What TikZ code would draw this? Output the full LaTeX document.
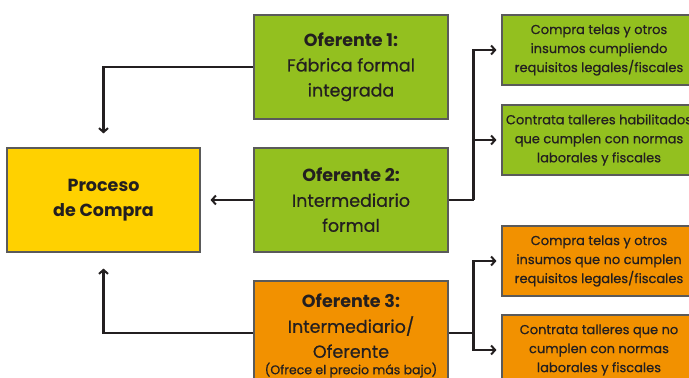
\documentclass[tikz,border=0pt]{standalone}
\usepackage{fontspec}
\setmainfont{Poppins}
\newfontfamily\med{Poppins}[FakeBold=0.6]
\newcommand\hb[1]{{\rmfamily\bfseries #1}}
\usetikzlibrary{arrows.meta}
\definecolor{grn}{HTML}{93C01F}
\definecolor{ylw}{HTML}{FFD100}
\definecolor{org}{HTML}{F29100}
\definecolor{ink}{HTML}{231F20}
\definecolor{edge}{HTML}{5A5A5A}
\tikzset{
  box/.style={draw=edge, line width=1.1pt, minimum width=194pt, inner sep=0pt, align=center, text=ink},
  bigfont/.style={font=\med\fontsize{17.5}{25}\selectfont},
  bigbox/.style={box, minimum height=104pt, bigfont},
  smallbox/.style={box, minimum height=70pt, font=\med\fontsize{13}{19}\selectfont},
  conn/.style={draw=ink, line width=2.2pt, -{Straight Barb[length=4pt,width=9pt,line width=2pt]}},
  plain/.style={draw=ink, line width=2.2pt}
}
\begin{document}
\begin{tikzpicture}[x=1pt,y=-1pt]
\useasboundingbox (0,0) rectangle (689,378);
\begin{scope}
\clip (0,0) rectangle (689,378);
\node[bigbox, fill=ylw, minimum width=193pt] (P) at (103.5,200) {\hb{Proceso}\\\hb{de Compra}};
\node[bigbox, fill=grn] (O1) at (351,67) {\hb{Oferente 1:}\\Fábrica formal\\integrada};
\node[bigbox, fill=grn] (O2) at (351,200) {\hb{Oferente 2:}\\Intermediario\\formal};
\node[bigbox, fill=org] (O3) at (351,333) {};
\node[text=ink, align=center, bigfont] (O3t) at (351,326) {\hb{Oferente 3:}\\Intermediario/\\Oferente};
\node[text=ink, font=\med\fontsize{12.5}{13}\selectfont] (O3s) at (351,370) {(Ofrece el precio más bajo)};
\node[smallbox, fill=grn] (A) at (599,50) {Compra telas y otros\\insumos cumpliendo\\requisitos legales/fiscales};
\node[smallbox, fill=grn] (B) at (599,140) {Contrata talleres habilitados\\que cumplen con normas\\laborales y fiscales};
\node[smallbox, fill=org] (C) at (599,261) {Compra telas y otros\\insumos que no cumplen\\requisitos legales/fiscales};
\node[smallbox, fill=org] (D) at (599,350) {Contrata talleres que no\\cumplen con normas\\laborales y fiscales};

\draw[conn, shorten >=14pt] (O1.west) -| (P.north);
\draw[conn, shorten >=10pt] (O2.west) -- (P.east);
\draw[conn, shorten >=16pt] (O3.west) -| (P.south);

\coordinate (j2) at ([xshift=25pt]O2.east);
\coordinate (j3) at ([xshift=25pt]O3.west -| O3.east);
\draw[plain] (O2.east) -- (j2);
\draw[conn, shorten >=5pt] (j2) |- (A.west);
\draw[conn, shorten >=5pt] (j2) |- (B.west);
\draw[plain] (O3.east) -- (j3);
\draw[conn, shorten >=5pt] (j3) |- (C.west);
\draw[conn, shorten >=5pt] (j3) |- (D.west);
\end{scope}
\end{tikzpicture}
\end{document}
